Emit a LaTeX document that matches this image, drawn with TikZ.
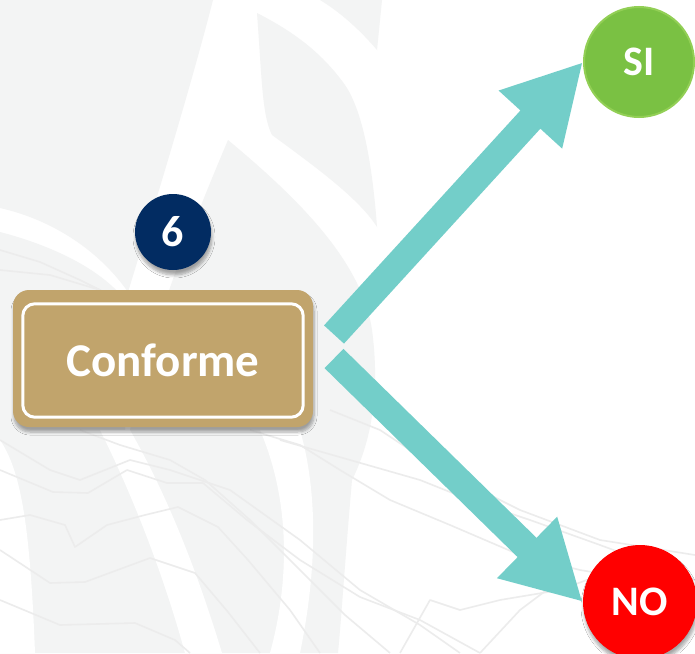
\documentclass[tikz,border=0pt]{standalone}
\usepackage{fontspec}
\setmainfont{Carlito}
\usetikzlibrary{arrows.meta,shadows.blur}
\definecolor{gold}{HTML}{C1A46C}
\definecolor{navy}{HTML}{022C62}
\definecolor{teal}{HTML}{73CEC9}
\definecolor{sigreen}{HTML}{7AC143}
\definecolor{sigreenline}{HTML}{92CF55}
\definecolor{nored}{HTML}{FF0000}
\definecolor{bggray}{HTML}{F3F4F4}
\definecolor{bgline}{HTML}{ECECEC}
\tikzset{
  bgfill/.style={fill=bggray, draw=none},
  bgwhite/.style={fill=white, draw=none},
  bglinestyle/.style={draw=bgline, line width=1.6pt, line join=round},
  softshadow/.style={blur shadow={shadow xshift=1pt, shadow yshift=-5pt, shadow blur radius=3pt, shadow opacity=35, shadow blur steps=6}},
  badge/.style={circle, fill=navy, minimum size=76pt, inner sep=0pt, text=white, font=\bfseries\fontsize{44}{44}\selectfont, softshadow},
  confbox/.style={rectangle, rounded corners=16pt, fill=gold, minimum width=300pt, minimum height=137pt, inner sep=0pt, softshadow},
  conftext/.style={text=white, font=\bfseries\fontsize{47}{47}\selectfont, inner sep=0pt},
  endcircle/.style={circle, inner sep=0pt, text=white, font=\bfseries\fontsize{42}{42}\selectfont},
  branch/.style={draw=teal, line width=27pt, -{Triangle[length=78pt,width=80pt]}}
}
\begin{document}
\begin{tikzpicture}[x=1pt,y=-1pt]
\useasboundingbox (0,0) rectangle (695,653);
\fill[white] (0,0) rectangle (695,653);
% ---- background watermark ----
\path[bgfill] (0,0) -- (213,0) .. controls (190,90) and (150,220) .. (128,292) .. controls (95,245) and (45,218) .. (0,208) -- cycle;
\path[bgfill] (0,232) .. controls (50,245) and (100,268) .. (125,300) -- (125,430) -- (0,430) -- cycle;
\path[bgfill] (257,13) .. controls (262,80) and (262,115) .. (272,135) .. controls (320,170) and (360,200) .. (377,227) .. controls (372,160) and (362,110) .. (345,85) .. controls (320,50) and (290,30) .. (257,13) -- cycle;
\path[bgfill] (320,0) -- (382,0) .. controls (380,20) and (378,40) .. (377,50) .. controls (360,30) and (340,12) .. (320,0) -- cycle;
\path[bgfill] (228,140) .. controls (300,200) and (362,262) .. (372,330) .. controls (380,390) and (372,440) .. (352,480) .. controls (345,560) and (342,610) .. (338,653) -- (0,653) -- (0,430) -- (130,430) .. controls (150,330) and (190,230) .. (228,140) -- cycle;
\path[bgwhite] (0,440) .. controls (20,470) and (30,520) .. (35,653) -- (0,653) -- cycle;
\path[bgwhite] (100,430) -- (130,430) .. controls (170,500) and (200,580) .. (222,653) -- (185,653) .. controls (165,580) and (135,500) .. (100,430) -- cycle;
\path[bgwhite] (260,430) -- (300,430) .. controls (320,500) and (315,580) .. (300,653) -- (270,653) .. controls (290,580) and (290,500) .. (260,430) -- cycle;
% faint lines
\draw[bglinestyle] (0,440) -- (50,470) -- (80,480) -- (130,460) -- (170,470) -- (230,490) -- (300,540) -- (360,590) -- (420,625) -- (460,653);
\draw[bglinestyle] (0,470) -- (53,492) -- (88,493) -- (127,470) -- (167,483) -- (203,483) -- (247,520) -- (300,560) -- (360,597) -- (420,620) -- (480,653);
\draw[bglinestyle] (0,520) -- (30,515) -- (65,525) -- (75,547) -- (107,525) -- (145,515) -- (178,507) -- (218,527) -- (248,560) -- (290,610) -- (320,653);
\draw[bglinestyle] (0,550) -- (50,583) -- (85,582) -- (150,558) -- (195,573) -- (228,612) -- (260,653);
\draw[bglinestyle] (0,600) -- (60,625) -- (135,623) -- (175,640) -- (190,653);
\draw[bglinestyle] (80,430) -- (120,445) -- (170,460) -- (205,480) -- (250,520) -- (300,570) -- (345,615) -- (390,653);
\draw[bglinestyle] (250,430) -- (300,445) -- (340,470) -- (390,500) -- (450,525) -- (520,555) -- (580,570) -- (640,580) -- (695,590);
\draw[bglinestyle] (280,440) -- (350,460) -- (420,480) -- (470,500) -- (530,520) -- (600,545) -- (695,580);
\draw[bglinestyle] (330,410) -- (380,430) -- (440,470) -- (520,510) -- (600,540) -- (695,555);
\draw[bglinestyle] (400,653) -- (430,600) -- (460,610) -- (500,600) -- (560,590) -- (600,575);
\draw[bglinestyle] (480,653) -- (520,610) -- (560,580);
\draw[bglinestyle] (0,250) -- (40,262) -- (80,280) -- (120,300);
\draw[bglinestyle] (0,270) -- (50,275) -- (100,290);
% ---- diagram ----
\node[badge] (n6) at (173,232) {6};
\node[confbox] (conf) at (163,358.5) {};
\draw[white, line width=3pt, rounded corners=12pt] ([xshift=10pt,yshift=10pt]conf.south west) rectangle ([xshift=-10pt,yshift=-14pt]conf.north east);
\node[conftext] (conflabel) at (163,360) {Conforme};
\node[endcircle, fill=sigreen, draw=sigreenline, line width=2pt, minimum size=110pt] (si) at (639,62) {SI};
\node[endcircle, fill=nored, minimum size=114pt, softshadow] (no) at (640,602) {NO};
\coordinate (a1) at (334,334.5);
\coordinate (a2) at (334,358.5);
\draw[branch] (a1) -- (si.west);
\draw[branch] (a2) -- (no.west);
\end{tikzpicture}
\end{document}
